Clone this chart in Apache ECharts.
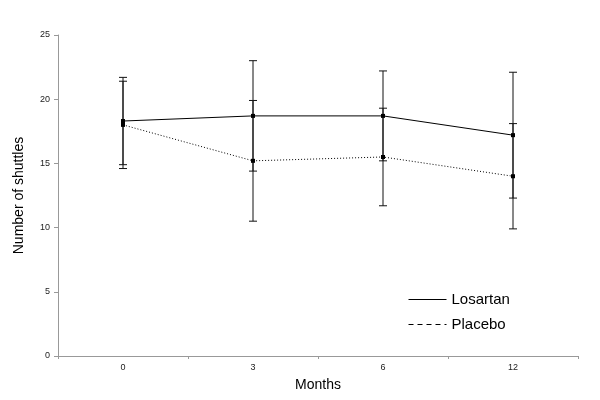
<!DOCTYPE html>
<html>
<head>
<meta charset="utf-8">
<script src="https://cdn.jsdelivr.net/npm/echarts@6/dist/echarts.min.js"></script>
<style>html,body{margin:0;padding:0;background:#fff}#c{width:600px;height:400px}</style>
</head>
<body>
<div id="c"></div>
<script>
var categories = ['0', '3', '6', '12'];
var yTicks = [0, 5, 10, 15, 20, 25];
var losartanMean = [18.3, 18.7, 18.7, 17.2];
var losartanLow = [14.9, 14.4, 15.2, 12.3];
var losartanHigh = [21.7, 23.0, 22.2, 22.1];
var placeboMean = [18.0, 15.2, 15.5, 14.0];
var placeboLow = [14.6, 10.5, 11.7, 9.9];
var placeboHigh = [21.4, 19.9, 19.3, 18.1];

function errData(low, high) {
  return categories.map(function (c, i) { return [i, low[i], high[i]]; });
}
function errRender(params, api) {
  var x = api.value(0);
  var lo = api.coord([x, api.value(1)]);
  var hi = api.coord([x, api.value(2)]);
  var hw = 4;
  var st = { stroke: '#111', lineWidth: 1 };
  return {
    type: 'group',
    children: [
      { type: 'line', shape: { x1: lo[0], y1: lo[1], x2: hi[0], y2: hi[1] }, style: st },
      { type: 'line', shape: { x1: lo[0] - hw, y1: lo[1], x2: lo[0] + hw, y2: lo[1] }, style: st },
      { type: 'line', shape: { x1: hi[0] - hw, y1: hi[1], x2: hi[0] + hw, y2: hi[1] }, style: st }
    ]
  };
}

var chart = echarts.init(document.getElementById('c'), null, { renderer: 'canvas' });
chart.setOption({
  animation: false,
  backgroundColor: '#fff',
  textStyle: { fontFamily: 'Liberation Sans, Arial, sans-serif' },
  grid: { left: 58, right: 22, top: 35, bottom: 44 },
  legend: {
    orient: 'vertical',
    left: 403,
    top: 287,
    itemWidth: 38,
    itemHeight: 10,
    itemGap: 10,
    itemStyle: { opacity: 0 },
    textStyle: { fontSize: 15, color: '#000', fontFamily: 'Liberation Sans, Arial, sans-serif' },
    data: [
      { name: 'Losartan', lineStyle: { type: 'solid', width: 1, color: '#000' } },
      { name: 'Placebo', lineStyle: { type: [5, 4], width: 1, color: '#000' } }
    ]
  },
  xAxis: {
    type: 'category',
    data: categories,
    boundaryGap: true,
    name: 'Months',
    nameLocation: 'middle',
    nameGap: 22,
    nameTextStyle: { fontSize: 14, color: '#000' },
    axisLine: { lineStyle: { color: '#999' } },
    axisTick: { show: true, alignWithLabel: false, length: 3, lineStyle: { color: '#999' } },
    axisLabel: { fontSize: 9, color: '#222', margin: 7 }
  },
  yAxis: {
    type: 'value',
    min: yTicks[0],
    max: yTicks[yTicks.length - 1],
    interval: yTicks[1] - yTicks[0],
    name: 'Number of shuttles',
    nameLocation: 'middle',
    nameGap: 32,
    nameRotate: 90,
    nameTextStyle: { fontSize: 14, color: '#000' },
    axisLine: { show: true, lineStyle: { color: '#999' } },
    axisTick: { show: true, length: 4, lineStyle: { color: '#999' } },
    axisLabel: { fontSize: 9, color: '#222', margin: 8 },
    splitLine: { show: false }
  },
  series: [
    {
      name: 'Losartan',
      type: 'line',
      data: losartanMean,
      symbol: 'rect',
      symbolSize: 4,
      itemStyle: { color: '#000' },
      lineStyle: { color: '#000', width: 1, type: 'solid' },
      z: 3
    },
    {
      name: 'Placebo',
      type: 'line',
      data: placeboMean,
      symbol: 'rect',
      symbolSize: 4,
      itemStyle: { color: '#000' },
      lineStyle: { color: '#000', width: 1, type: [1, 2] },
      z: 3
    },
    {
      type: 'custom',
      renderItem: errRender,
      data: errData(losartanLow, losartanHigh),
      encode: { x: 0, y: [1, 2] },
      z: 2
    },
    {
      type: 'custom',
      renderItem: errRender,
      data: errData(placeboLow, placeboHigh),
      encode: { x: 0, y: [1, 2] },
      z: 2
    }
  ]
});
</script>
</body>
</html>
